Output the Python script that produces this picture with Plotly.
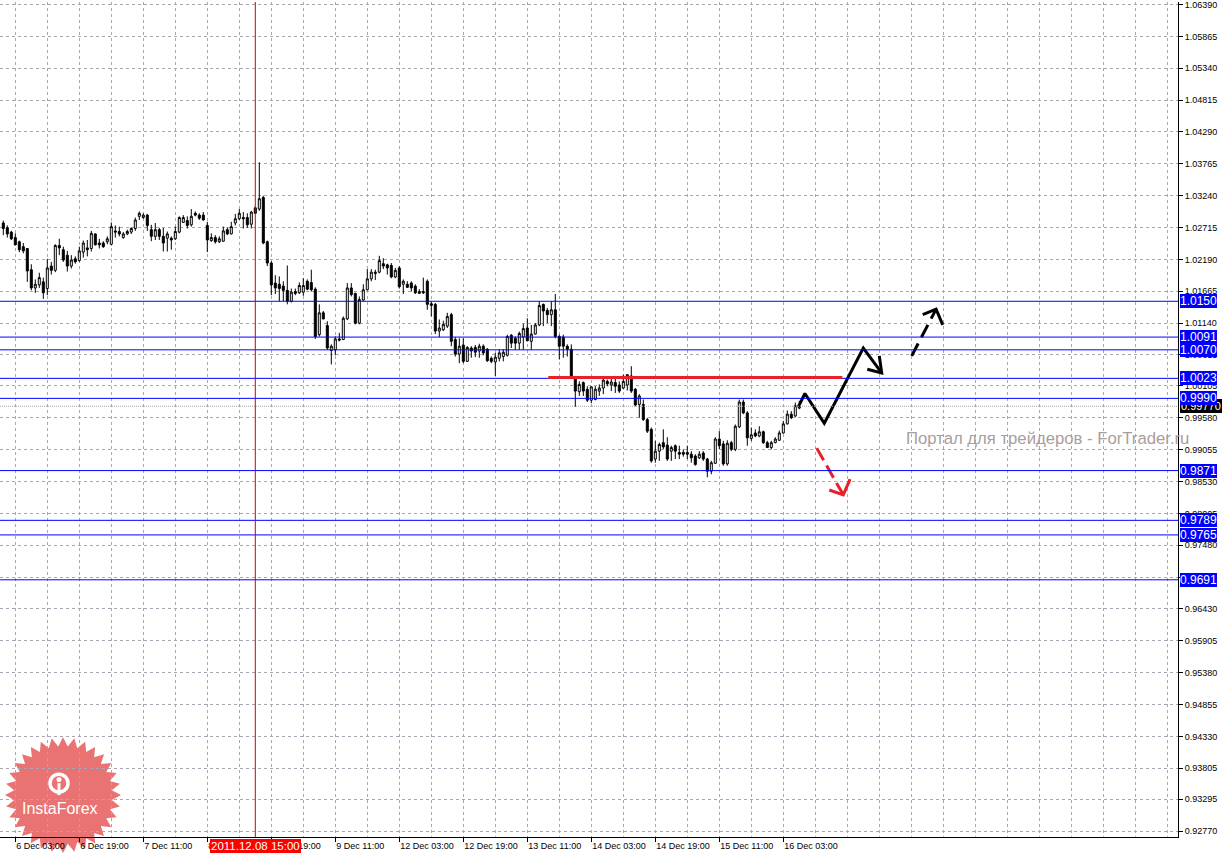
import numpy as np
import plotly.graph_objects as go

# EURCHF-like H1 chart, bars indexed from "6 Dec 03:00" = 0
FIRST_BAR = -3

OPEN = [
    1.0279, 1.0271, 1.0264, 1.0255, 1.0248, 1.0240, 1.0237, 1.0202, 1.0172, 1.0177,
    1.0182, 1.0171, 1.0208, 1.0201, 1.0242, 1.0235, 1.0226, 1.0208, 1.0220, 1.0217,
    1.0231, 1.0238, 1.0237, 1.0261, 1.0246, 1.0246, 1.0248, 1.0244, 1.0266, 1.0265,
    1.0255, 1.0261, 1.0264, 1.0270, 1.0290, 1.0288, 1.0292, 1.0268, 1.0257, 1.0268,
    1.0257, 1.0254, 1.0254, 1.0253, 1.0264, 1.0280, 1.0283, 1.0276, 1.0295, 1.0292,
    1.0292, 1.0275, 1.0250, 1.0255, 1.0248, 1.0249, 1.0268, 1.0261, 1.0279, 1.0286,
    1.0288, 1.0288, 1.0277, 1.0304, 1.0302, 1.0321, 1.0248, 1.0213, 1.0180, 1.0178,
    1.0175, 1.0168, 1.0150, 1.0166, 1.0164, 1.0165, 1.0183, 1.0181, 1.0170, 1.0095,
    1.0131, 1.0110, 1.0069, 1.0070, 1.0088, 1.0087, 1.0121, 1.0172, 1.0163, 1.0114,
    1.0152, 1.0169, 1.0187, 1.0198, 1.0198, 1.0212, 1.0210, 1.0209, 1.0190, 1.0205,
    1.0178, 1.0178, 1.0180, 1.0175, 1.0163, 1.0166, 1.0183, 1.0143, 1.0145, 1.0101,
    1.0103, 1.0109, 1.0128, 1.0087, 1.0063, 1.0078, 1.0051, 1.0073, 1.0074, 1.0068,
    1.0076, 1.0071, 1.0056, 1.0050, 1.0056, 1.0059, 1.0061, 1.0094, 1.0089, 1.0081,
    1.0091, 1.0106, 1.0084, 1.0096, 1.0111, 1.0145, 1.0135, 1.0128, 1.0136, 1.0092,
    1.0091, 1.0076, 1.0071, 1.0024, 1.0001, 1.0016, 1.0005, 0.9987, 0.9988, 1.0002,
    1.0007, 1.0018, 1.0012, 1.0016, 1.0012, 1.0007, 1.0012, 1.0027, 1.0005, 0.9980,
    0.9980, 0.9955, 0.9939, 0.9890, 0.9903, 0.9917, 0.9913, 0.9903, 0.9912, 0.9901,
    0.9901, 0.9901, 0.9898, 0.9895, 0.9892, 0.9900, 0.9890, 0.9870, 0.9883, 0.9923,
    0.9915, 0.9882, 0.9917, 0.9906, 0.9943, 0.9984, 0.9966, 0.9924, 0.9933, 0.9928,
    0.9935, 0.9917, 0.9909, 0.9917, 0.9921, 0.9933, 0.9948, 0.9964, 0.9961, 0.9974,
]
HIGH = [
    1.0283, 1.0275, 1.0266, 1.0262, 1.0250, 1.0246, 1.0237, 1.0211, 1.0186, 1.0197,
    1.0189, 1.0220, 1.0215, 1.0244, 1.0253, 1.0240, 1.0233, 1.0226, 1.0224, 1.0240,
    1.0250, 1.0251, 1.0266, 1.0262, 1.0253, 1.0249, 1.0257, 1.0280, 1.0275, 1.0273,
    1.0264, 1.0268, 1.0272, 1.0288, 1.0298, 1.0295, 1.0294, 1.0276, 1.0279, 1.0271,
    1.0271, 1.0265, 1.0257, 1.0273, 1.0290, 1.0292, 1.0290, 1.0302, 1.0298, 1.0295,
    1.0297, 1.0281, 1.0262, 1.0259, 1.0257, 1.0273, 1.0272, 1.0281, 1.0294, 1.0302,
    1.0297, 1.0295, 1.0299, 1.0306, 1.0379, 1.0324, 1.0250, 1.0216, 1.0193, 1.0191,
    1.0183, 1.0209, 1.0171, 1.0171, 1.0181, 1.0188, 1.0186, 1.0202, 1.0173, 1.0145,
    1.0134, 1.0117, 1.0079, 1.0092, 1.0098, 1.0125, 1.0180, 1.0180, 1.0164, 1.0158,
    1.0178, 1.0203, 1.0203, 1.0202, 1.0225, 1.0221, 1.0212, 1.0213, 1.0205, 1.0208,
    1.0186, 1.0183, 1.0183, 1.0178, 1.0170, 1.0189, 1.0186, 1.0150, 1.0147, 1.0120,
    1.0118, 1.0131, 1.0131, 1.0091, 1.0089, 1.0089, 1.0076, 1.0076, 1.0078, 1.0080,
    1.0079, 1.0073, 1.0059, 1.0065, 1.0071, 1.0071, 1.0095, 1.0096, 1.0092, 1.0100,
    1.0113, 1.0122, 1.0111, 1.0114, 1.0150, 1.0146, 1.0139, 1.0150, 1.0162, 1.0095,
    1.0095, 1.0079, 1.0079, 1.0027, 1.0018, 1.0018, 1.0010, 1.0010, 1.0010, 1.0013,
    1.0027, 1.0021, 1.0024, 1.0027, 1.0018, 1.0029, 1.0030, 1.0043, 1.0007, 0.9997,
    0.9988, 0.9958, 0.9942, 0.9920, 0.9917, 0.9939, 0.9926, 0.9912, 0.9914, 0.9912,
    0.9906, 0.9912, 0.9903, 0.9898, 0.9903, 0.9903, 0.9892, 0.9887, 0.9926, 0.9936,
    0.9920, 0.9921, 0.9920, 0.9947, 0.9988, 0.9988, 0.9969, 0.9942, 0.9939, 0.9944,
    0.9937, 0.9920, 0.9920, 0.9926, 0.9937, 0.9953, 0.9970, 0.9969, 0.9983, 0.9986,
]
LOW = [
    1.0259, 1.0255, 1.0251, 1.0242, 1.0231, 1.0229, 1.0182, 1.0168, 1.0164, 1.0172,
    1.0154, 1.0160, 1.0194, 1.0198, 1.0226, 1.0215, 1.0199, 1.0204, 1.0212, 1.0215,
    1.0222, 1.0224, 1.0232, 1.0242, 1.0237, 1.0238, 1.0244, 1.0242, 1.0255, 1.0257,
    1.0253, 1.0259, 1.0261, 1.0266, 1.0284, 1.0286, 1.0266, 1.0249, 1.0251, 1.0251,
    1.0232, 1.0232, 1.0235, 1.0251, 1.0262, 1.0279, 1.0270, 1.0273, 1.0290, 1.0284,
    1.0283, 1.0231, 1.0248, 1.0245, 1.0246, 1.0248, 1.0259, 1.0260, 1.0275, 1.0284,
    1.0270, 1.0271, 1.0270, 1.0294, 1.0299, 1.0244, 1.0208, 1.0160, 1.0162, 1.0150,
    1.0150, 1.0145, 1.0148, 1.0160, 1.0162, 1.0159, 1.0168, 1.0166, 1.0088, 1.0092,
    1.0120, 1.0070, 1.0046, 1.0061, 1.0084, 1.0086, 1.0119, 1.0158, 1.0112, 1.0112,
    1.0150, 1.0168, 1.0183, 1.0185, 1.0196, 1.0203, 1.0194, 1.0188, 1.0188, 1.0171,
    1.0162, 1.0172, 1.0166, 1.0162, 1.0162, 1.0162, 1.0136, 1.0125, 1.0096, 1.0091,
    1.0101, 1.0106, 1.0076, 1.0059, 1.0048, 1.0048, 1.0050, 1.0057, 1.0058, 1.0057,
    1.0061, 1.0050, 1.0048, 1.0027, 1.0051, 1.0051, 1.0059, 1.0073, 1.0070, 1.0070,
    1.0070, 1.0084, 1.0070, 1.0095, 1.0109, 1.0109, 1.0114, 1.0109, 1.0089, 1.0054,
    1.0057, 1.0059, 1.0024, 0.9976, 0.9994, 0.9994, 0.9984, 0.9982, 0.9987, 0.9994,
    0.9997, 1.0010, 1.0002, 0.9999, 0.9999, 1.0005, 1.0003, 0.9999, 0.9977, 0.9958,
    0.9953, 0.9933, 0.9884, 0.9884, 0.9887, 0.9906, 0.9887, 0.9887, 0.9890, 0.9890,
    0.9894, 0.9890, 0.9884, 0.9879, 0.9890, 0.9887, 0.9860, 0.9865, 0.9882, 0.9906,
    0.9879, 0.9879, 0.9903, 0.9903, 0.9941, 0.9964, 0.9912, 0.9920, 0.9926, 0.9926,
    0.9915, 0.9909, 0.9906, 0.9916, 0.9920, 0.9932, 0.9947, 0.9956, 0.9959, 0.9972,
]
CLOSE = [
    1.0270, 1.0261, 1.0253, 1.0243, 1.0235, 1.0233, 1.0200, 1.0172, 1.0178, 1.0189,
    1.0164, 1.0205, 1.0201, 1.0242, 1.0238, 1.0218, 1.0208, 1.0218, 1.0215, 1.0233,
    1.0246, 1.0235, 1.0262, 1.0243, 1.0243, 1.0240, 1.0253, 1.0273, 1.0264, 1.0261,
    1.0261, 1.0265, 1.0270, 1.0284, 1.0295, 1.0292, 1.0275, 1.0257, 1.0268, 1.0257,
    1.0246, 1.0261, 1.0251, 1.0265, 1.0288, 1.0288, 1.0275, 1.0290, 1.0292, 1.0287,
    1.0284, 1.0251, 1.0255, 1.0248, 1.0253, 1.0266, 1.0261, 1.0273, 1.0286, 1.0295,
    1.0286, 1.0276, 1.0297, 1.0295, 1.0319, 1.0246, 1.0213, 1.0177, 1.0172, 1.0171,
    1.0168, 1.0150, 1.0165, 1.0163, 1.0176, 1.0176, 1.0170, 1.0169, 1.0092, 1.0131,
    1.0121, 1.0073, 1.0076, 1.0088, 1.0086, 1.0122, 1.0172, 1.0161, 1.0114, 1.0153,
    1.0169, 1.0187, 1.0198, 1.0196, 1.0217, 1.0208, 1.0205, 1.0190, 1.0201, 1.0174,
    1.0183, 1.0173, 1.0172, 1.0164, 1.0166, 1.0164, 1.0145, 1.0146, 1.0101, 1.0106,
    1.0112, 1.0125, 1.0084, 1.0063, 1.0076, 1.0051, 1.0074, 1.0068, 1.0066, 1.0076,
    1.0065, 1.0052, 1.0051, 1.0058, 1.0065, 1.0066, 1.0092, 1.0081, 1.0081, 1.0097,
    1.0105, 1.0085, 1.0096, 1.0111, 1.0143, 1.0134, 1.0128, 1.0136, 1.0092, 1.0076,
    1.0076, 1.0071, 1.0027, 1.0002, 1.0013, 1.0002, 0.9987, 1.0009, 1.0005, 1.0007,
    1.0020, 1.0014, 1.0017, 1.0010, 1.0002, 1.0018, 1.0029, 1.0002, 0.9979, 0.9994,
    0.9955, 0.9936, 0.9887, 0.9903, 0.9914, 0.9910, 0.9890, 0.9909, 0.9903, 0.9898,
    0.9898, 0.9898, 0.9892, 0.9881, 0.9898, 0.9890, 0.9870, 0.9884, 0.9923, 0.9912,
    0.9882, 0.9916, 0.9906, 0.9944, 0.9984, 0.9966, 0.9925, 0.9930, 0.9928, 0.9935,
    0.9917, 0.9909, 0.9917, 0.9923, 0.9933, 0.9948, 0.9964, 0.9958, 0.9978, 0.9977,
]

TIME_TICKS = [0, 16, 32, 48, 64, 80, 96, 112, 128, 144, 160, 176, 192]
TIME_LABELS = ["6 Dec 03:00", "6 Dec 19:00", "7 Dec 11:00", "8 Dec 03:00", "8 Dec 19:00",
               "9 Dec 11:00", "12 Dec 03:00", "12 Dec 19:00", "13 Dec 11:00", "14 Dec 03:00",
               "14 Dec 19:00", "15 Dec 11:00", "16 Dec 03:00"]

PRICE_TICKS = [1.06390, 1.05865, 1.05340, 1.04815, 1.04290, 1.03765, 1.03240, 1.02715, 1.02190,
               1.01665, 1.01140, 1.00615, 1.00105, 0.99580, 0.99055, 0.98530, 0.98005, 0.97480,
               0.96955, 0.96430, 0.95905, 0.95380, 0.94855, 0.94330, 0.93805, 0.93295, 0.92770]

LEVELS = [1.0150, 1.0091, 1.0070, 1.0023, 0.9990, 0.9871, 0.9789, 0.9765, 0.9691]
BID = 0.9977

CURSOR_BAR = 60
CURSOR_LABEL = "2011.12.08 15:00"

RED_LEVEL = 1.00245
RED_SPAN = [133.25, 206.75]

ZIGZAG_X = [195.75, 197.4, 202.25, 212.0, 216.6]
ZIGZAG_Y = [0.9976, 0.9998, 0.9949, 1.0073, 1.0032]
ZIGZAG_HEAD_X = [213.0, 216.6, 216.0]
ZIGZAG_HEAD_Y = [1.0038, 1.0032, 1.0060]
UP_X = [224.1, 230.2]
UP_Y = [1.0060, 1.0137]
UP_HEAD_X = [226.85, 230.2, 231.85]
UP_HEAD_Y = [1.0128, 1.0137, 1.0111]
DOWN_X = [200.35, 207.0]
DOWN_Y = [0.9908, 0.9831]
DOWN_HEAD_X = [203.5, 207.0, 208.7]
DOWN_HEAD_Y = [0.9839, 0.9831, 0.9857]

W, H = 1222, 856
PLOT_W, PLOT_H = 1178, 837
FONT = "Liberation Sans"
GRID = "#aba4b2"

bars = np.arange(len(OPEN)) + FIRST_BAR

fig = go.Figure()

fig.add_trace(go.Candlestick(
    x=bars, open=OPEN, high=HIGH, low=LOW, close=CLOSE,
    increasing=dict(line=dict(color="#000000", width=1), fillcolor="#ffffff"),
    decreasing=dict(line=dict(color="#000000", width=1), fillcolor="#000000"),
    whiskerwidth=0, showlegend=False, hoverinfo="skip",
))

# hand-drawn scenario arrows
def _seg(x, y, color, dash=None):
    fig.add_trace(go.Scatter(x=x, y=y, mode="lines",
                             line=dict(color=color, width=3, dash=dash),
                             showlegend=False, hoverinfo="skip"))

_seg(ZIGZAG_X, ZIGZAG_Y, "#000000")
_seg(ZIGZAG_HEAD_X, ZIGZAG_HEAD_Y, "#000000")
_seg(UP_X, UP_Y, "#000000", dash="14px,7px")
_seg(UP_HEAD_X, UP_HEAD_Y, "#000000")
_seg(DOWN_X, DOWN_Y, "#e8202a", dash="14px,6px")
_seg(DOWN_HEAD_X, DOWN_HEAD_Y, "#e8202a")

shapes = []
annotations = []

# bid line
shapes.append(dict(type="line", xref="paper", x0=0, x1=1, yref="y", y0=BID, y1=BID,
                   line=dict(color="#a0a0a0", width=1, dash="1px,1px"), layer="above"))
annotations.append(dict(x=1, xref="paper", y=BID, yref="y", xanchor="left", xshift=2,
                        text=f"{BID:.5f}", showarrow=False, bgcolor="#000000",
                        font=dict(color="#ffffff", size=11, family=FONT), borderpad=1, borderwidth=0))

for lv in LEVELS:
    shapes.append(dict(type="line", xref="paper", x0=0, x1=1, yref="y", y0=lv, y1=lv,
                       line=dict(color="#0000ff", width=1), layer="above"))
    annotations.append(dict(x=1, xref="paper", y=lv, yref="y", xanchor="left", xshift=2,
                            text=f"{lv:.4f}", showarrow=False, bgcolor="#0000ff",
                            font=dict(color="#ffffff", size=12, family=FONT),
                            borderpad=0, borderwidth=0))

# red resistance line on top of the blue ones
shapes.append(dict(type="line", xref="x", x0=RED_SPAN[0], x1=RED_SPAN[1], yref="y",
                   y0=RED_LEVEL, y1=RED_LEVEL, line=dict(color="#e8202a", width=3), layer="above"))

# vertical cursor line + date label
shapes.append(dict(type="line", xref="x", x0=CURSOR_BAR, x1=CURSOR_BAR, yref="paper", y0=0, y1=1,
                   line=dict(color="#d00000", width=1), layer="above"))
annotations.append(dict(x=CURSOR_BAR, xref="x", y=0, yref="paper", yanchor="top", yshift=-2,
                        text=CURSOR_LABEL, showarrow=False, bgcolor="#ff0000",
                        font=dict(color="#ffffff", size=11.5, family=FONT), borderpad=1, borderwidth=0))

# watermark
annotations.append(dict(x=904 / PLOT_W, xref="paper", y=1 - 438 / PLOT_H, yref="paper",
                        xanchor="left", yanchor="middle", showarrow=False,
                        text="Портал для трейдеров - ForTrader.ru",
                        font=dict(color="#a89e9e", size=16.7, family=FONT)))

# InstaForex badge (starburst), drawn in pixel space -> paper
def _px(x, y):
    return x / PLOT_W, 1 - y / PLOT_H

cx, cy = 63, 795
ang = np.linspace(0, 2 * np.pi, 64, endpoint=False) - np.pi / 2
rad = np.where(np.arange(64) % 2 == 0, 58, 49)
pts = [_px(cx + r * np.cos(a), cy + r * np.sin(a)) for r, a in zip(rad, ang)]
path = "M " + " L ".join(f"{x:.5f},{y:.5f}" for x, y in pts) + " Z"
shapes.append(dict(type="path", xref="paper", yref="paper", path=path,
                   fillcolor="rgba(225,60,60,0.72)", line=dict(width=0), layer="below"))
# small gear-ish emblem
ex, ey = 59, 783
x0, y0 = _px(ex - 9, ey - 9)
x1, y1 = _px(ex + 9, ey + 9)
shapes.append(dict(type="circle", xref="paper", yref="paper", x0=x0, y0=y0, x1=x1, y1=y1,
                   line=dict(color="#ffffff", width=3.5), fillcolor="rgba(0,0,0,0)", layer="below"))
hx0, hy0 = _px(ex - 2.5, ey - 6)
hx1, hy1 = _px(ex + 2.5, ey - 1)
shapes.append(dict(type="circle", xref="paper", yref="paper", x0=hx0, y0=hy0, x1=hx1, y1=hy1,
                   fillcolor="#ffffff", line=dict(width=0), layer="below"))
bx0, by0 = _px(ex - 1.5, ey)
bx1, by1 = _px(ex + 1.5, ey + 12)
shapes.append(dict(type="rect", xref="paper", yref="paper", x0=bx0, y0=by0, x1=bx1, y1=by1,
                   fillcolor="#ffffff", line=dict(width=0), layer="below"))
tx, ty = _px(60, 808)
annotations.append(dict(x=tx, y=ty, xref="paper", yref="paper", xanchor="center", yanchor="middle",
                        text="InstaForex", showarrow=False,
                        font=dict(color="#ffffff", size=16, family=FONT)))

fig.update_layout(
    width=W, height=H,
    margin=dict(l=0, r=W - PLOT_W, t=0, b=H - PLOT_H),
    paper_bgcolor="#ffffff", plot_bgcolor="rgba(0,0,0,0)",
    boxgap=0.5, boxgroupgap=0,
    showlegend=False,
    shapes=shapes, annotations=annotations,
    font=dict(family=FONT, color="#000000"),
    xaxis=dict(
        range=[-3.825, -3.825 + PLOT_W / 4], rangeslider=dict(visible=False),
        tickvals=TIME_TICKS, ticktext=TIME_LABELS, ticklabelposition="outside right",
        tickfont=dict(size=9, family=FONT, color="#000000"),
        ticks="outside", ticklen=4, tickcolor="#000000",
        showgrid=True, gridcolor=GRID, griddash="3px,3px", gridwidth=1,
        minor=dict(tick0=0, dtick=8, showgrid=True, gridcolor=GRID, griddash="3px,3px", ticks=""),
        showline=True, linecolor="#000000", linewidth=1, zeroline=False,
    ),
    yaxis=dict(
        side="right", range=[1.06432 - PLOT_H * 0.0001644, 1.06432],
        tickvals=PRICE_TICKS, ticktext=[f"{v:.5f}" for v in PRICE_TICKS],
        tickfont=dict(size=9, family=FONT, color="#000000"), ticklabeloverflow="allow",
        ticks="outside", ticklen=4, tickcolor="#000000",
        showgrid=True, gridcolor=GRID, griddash="3px,3px", gridwidth=1,
        showline=True, linecolor="#000000", linewidth=1, zeroline=False,
    ),
)

fig.write_html("out.html", config={"displayModeBar": False},
               post_script="document.body.style.margin='0';")
